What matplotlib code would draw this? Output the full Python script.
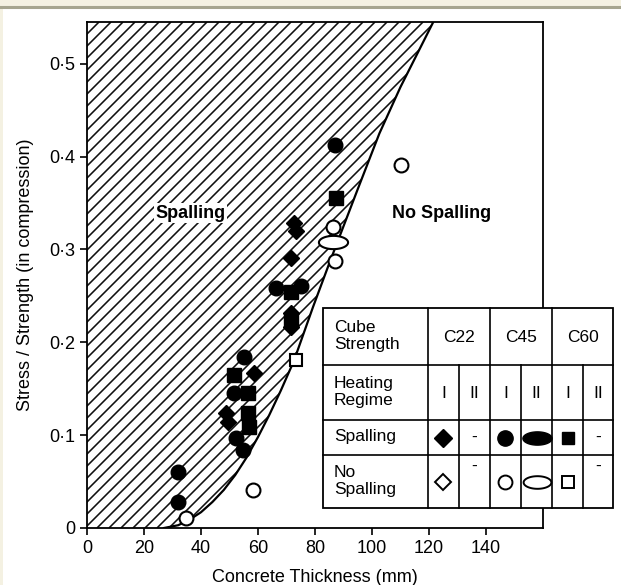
# -*- coding: utf-8 -*-
"""
spalling_thickness.py
"""
import numpy as np
import matplotlib.pyplot as plt
from matplotlib.path import Path
from matplotlib.patches import Polygon, Rectangle
from matplotlib.lines import Line2D
from matplotlib.collections import LineCollection

plt.rcParams['font.family'] = ['Liberation Sans', 'DejaVu Sans']

#%% data
# boundary between spalling / no spalling
curve_x = [27, 32, 36, 40, 44, 48, 52, 56, 60, 64, 68, 72.6, 79.3, 85, 95,
           102.6, 110, 121.5]
curve_y = [0, 0.003, 0.009, 0.017, 0.028, 0.041, 0.057, 0.076, 0.098, 0.122,
           0.148, 0.18, 0.238, 0.285, 0.365, 0.425, 0.475, 0.545]

# spalling (filled)
c22_x = [72.6, 73.3, 71.6, 58.5, 71.6, 71.6, 48.7, 49.4]
c22_y = [0.328, 0.320, 0.291, 0.167, 0.232, 0.216, 0.124, 0.114]
c45_x = [87.1, 66.3, 75.1, 55.0, 51.5, 52.2, 54.7, 32.1, 32.1]
c45_y = [0.413, 0.258, 0.261, 0.184, 0.145, 0.097, 0.084, 0.060, 0.028]
c60_x = [87.4, 71.6, 71.6, 51.5, 56.4, 56.4, 56.8]
c60_y = [0.355, 0.254, 0.224, 0.165, 0.145, 0.124, 0.109]

# no spalling (open)
c45_open_x = [34.9, 58.2, 86.4, 87.1, 110.0]
c45_open_y = [0.011, 0.041, 0.324, 0.288, 0.391]
c45_ii_open_x = [86.4]
c45_ii_open_y = [0.308]
c60_open_x = [73.3]
c60_open_y = [0.181]

xticks = [0, 20, 40, 60, 80, 100, 120, 140]
yticks = [0, 0.1, 0.2, 0.3, 0.4, 0.5]
ylabels = ['0', '0·1', '0·2', '0·3', '0·4', '0·5']

#%% figure
W, H = 621, 585
fig = plt.figure(figsize=(W / 100, H / 100), dpi=100)
ax = fig.add_axes([87 / W, 1 - 528 / H, 456 / W, 506 / H])
ax.set_xlim(0, 160)
ax.set_ylim(0, 0.545)

# hatched spalling zone
poly = np.column_stack([np.r_[0, curve_x, 0], np.r_[0, curve_y, curve_y[-1]]])
zone = Polygon(poly, closed=True, facecolor='white', edgecolor='none', zorder=1)
ax.add_patch(zone)
ratio = 506 / 456
offs = np.arange(-ratio, 1.0, 12 / 456)
segs = [[(u, 0), (u + ratio, 1)] for u in offs]
hatch = LineCollection(segs, transform=ax.transAxes, colors='#101010',
                       linewidths=1.15, zorder=1.5)
hatch.set_clip_path(zone)
ax.add_collection(hatch, autolim=False)

ax.plot(curve_x, curve_y, color='black', lw=1.6, zorder=2)

# ellipse marker (C45 regime II)
t = np.linspace(0, 2 * np.pi, 60)
ell = Path(np.column_stack([1.1 * np.cos(t), 0.5 * np.sin(t)]), closed=True)

ax.plot(c22_x, c22_y, 'D', color='black', ms=8.5, ls='none', zorder=3)
ax.plot(c45_x, c45_y, 'o', color='black', ms=10.5, ls='none', zorder=3)
ax.plot(c60_x, c60_y, 's', color='black', ms=9.5, ls='none', zorder=3)
ax.plot(c45_open_x, c45_open_y, 'o', mfc='white', mec='black', mew=1.5,
        ms=10, ls='none', zorder=3)
ax.plot(c45_ii_open_x, c45_ii_open_y, marker=ell, mfc='white', mec='black',
        mew=1.5, ms=21, ls='none', zorder=3)
ax.plot(c60_open_x, c60_open_y, 's', mfc='white', mec='black', mew=1.5,
        ms=8, ls='none', zorder=3)

ax.text(36.3, 0.339, 'Spalling', fontsize=13, fontweight='bold',
        ha='center', va='center', zorder=2.5,
        bbox=dict(facecolor='white', edgecolor='none', pad=1))
ax.text(124.5, 0.339, 'No Spalling', fontsize=13, fontweight='bold',
        ha='center', va='center')

ax.set_xticks(xticks)
ax.set_yticks(yticks)
ax.set_yticklabels(ylabels)
ax.tick_params(direction='out', length=5, width=1.2, labelsize=13)
for s in ax.spines.values():
    s.set_linewidth(1.3)
ax.set_xlabel('Concrete Thickness (mm)', fontsize=13, labelpad=9)
ax.set_ylabel('Stress / Strength (in compression)', fontsize=13, labelpad=11)

#%% key table
def fx(px):
    return px / W

def fy(py):
    return 1 - py / H

def hline(y, x0, x1):
    fig.add_artist(Line2D([fx(x0), fx(x1)], [fy(y), fy(y)], color='black',
                          lw=1.2, transform=fig.transFigure, zorder=6))

def vline(x, y0, y1):
    fig.add_artist(Line2D([fx(x), fx(x)], [fy(y0), fy(y1)], color='black',
                          lw=1.2, transform=fig.transFigure, zorder=6))

tl, tr, tt, tb = 323, 613, 308, 508
fig.add_artist(Rectangle((fx(tl), fy(tb)), fx(tr) - fx(tl), fy(tt) - fy(tb),
                         transform=fig.transFigure, facecolor='white',
                         edgecolor='black', lw=1.3, zorder=5))
rows = [365, 420, 455]
for r in rows:
    hline(r, tl, tr)
cols = [428, 459, 490, 521, 552, 583]
for i, c in enumerate(cols):
    vline(c, tt if i % 2 == 0 else rows[0], tb)

def ftext(px, py, s, size=12.5, **kw):
    fig.text(fx(px), fy(py), s, fontsize=size, va='center', zorder=7, **kw)

ftext(334, 336, 'Cube\nStrength', linespacing=1.1)
ftext(334, 392, 'Heating\nRegime', linespacing=1.1)
ftext(334, 437, 'Spalling')
ftext(334, 481, 'No\nSpalling', linespacing=1.1)
for c, lab in zip([459, 521, 583], ['C22', 'C45', 'C60']):
    ftext(c, 337, lab, ha='center')
edges = cols + [tr]
centers = [(a + b) / 2 for a, b in zip(edges[:-1], edges[1:])]
for c, lab in zip(centers, ['I', 'II'] * 3):
    ftext(c, 393, lab, ha='center')

srow, nrow = 437.5, 481.5
def fmark(px, py, **kw):
    fig.add_artist(Line2D([fx(px)], [fy(py)], transform=fig.transFigure,
                          ls='none', color='black', zorder=7, **kw))

fmark(centers[0], srow, marker='D', ms=9)
fmark(centers[2], srow, marker='o', ms=11)
fmark(centers[3], srow, marker=ell, ms=21)
fmark(centers[4], srow, marker='s', ms=9)
fmark(centers[0], nrow, marker='D', ms=8.5, mfc='white', mew=1.4)
fmark(centers[2], nrow, marker='o', ms=10, mfc='white', mew=1.4)
fmark(centers[3], nrow, marker=ell, ms=20, mfc='white', mew=1.4)
fmark(centers[4], nrow, marker='s', ms=8.5, mfc='white', mew=1.4)
for c in [centers[1], centers[5]]:
    ftext(c, srow, '-', ha='center')
    ftext(c, nrow - 15, '-', ha='center')

# page border
fig.add_artist(Rectangle((0, fy(7)), 1, 7 / H, transform=fig.transFigure,
                         facecolor='#f4f1e2', edgecolor='none', zorder=8))
fig.add_artist(Line2D([0, 1], [fy(7), fy(7)], color='#a6a58f', lw=2.2,
                      transform=fig.transFigure, zorder=9))
fig.add_artist(Rectangle((0, 0), 3 / W, fy(7), transform=fig.transFigure,
                         facecolor='#f4f1e2', edgecolor='none', zorder=8))

fig.savefig('out.png', dpi=100)
